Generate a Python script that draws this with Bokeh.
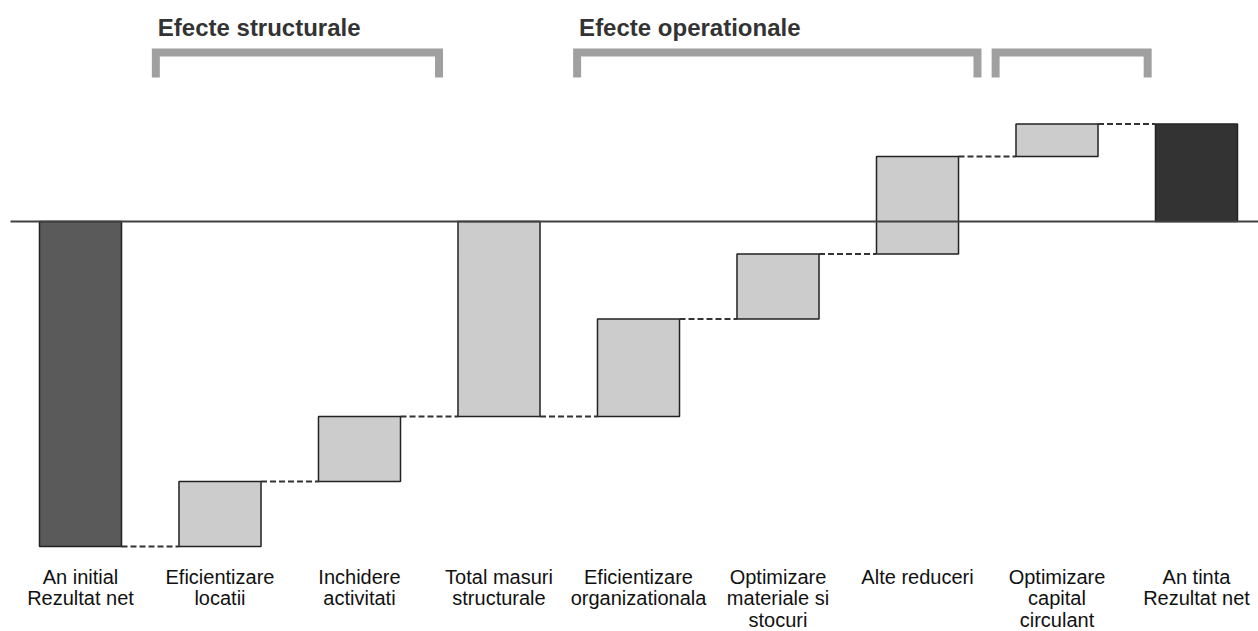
from bokeh.plotting import figure
from bokeh.models import Range1d
from bokeh.embed import file_html
from bokeh.resources import INLINE
from bokeh.core.properties import value

# ---- data ----
categories = ["An initial\nRezultat net", "Eficientizare\nlocatii", "Inchidere\nactivitati",
              "Total masuri\nstructurale", "Eficientizare\norganizationala",
              "Optimizare\nmateriale si\nstocuri", "Alte reduceri",
              "Optimizare\ncapital\ncirculant", "An tinta\nRezultat net"]
values = [-100, 20, 20, -60, 30, 20, 30, 10, 30]
kinds = ["start", "step", "step", "total", "step", "step", "step", "step", "end"]
group_titles = ["Efecte structurale", "Efecte operationale", ""]
group_spans = [(0.54, 2.57), (3.56, 6.43), (6.56, 7.65)]

# ---- layout ----
W, H = 1258, 631
PX_X = 139.5          # px per category
PX_Y = 3.25           # px per value unit
x0 = -80 / PX_X
y1 = 221 / PX_Y
def sy(py):           # screen y -> data y
    return y1 - py / PX_Y

p = figure(width=W, height=H, output_backend="svg", toolbar_location=None,
           x_range=Range1d(x0, x0 + W / PX_X), y_range=Range1d(y1 - H / PX_Y, y1),
           min_border=0, outline_line_color=None)
p.axis.visible = False
p.grid.visible = False

colors = {"start": "#5a5a5a", "step": "#cccccc", "total": "#cccccc", "end": "#333333"}
bw = 0.588
left, right, bottom, top, fill = [], [], [], [], []
levels = []
run = 0
for i, (v, k) in enumerate(zip(values, kinds)):
    if k == "start":
        b, t = min(0, v), max(0, v); run = v
    elif k == "step":
        b, t = min(run, run + v), max(run, run + v); run = run + v
    else:
        b, t = min(0, run), max(0, run)
    left.append(i - bw / 2); right.append(i + bw / 2)
    bottom.append(b); top.append(t); fill.append(colors[k])
    levels.append(run)

p.quad(left=left, right=right, bottom=bottom, top=top, fill_color=fill,
       line_color="#222222", line_width=1.5)

# connectors
cx0 = [i + bw / 2 for i in range(len(values) - 1)]
cx1 = [i + 1 - bw / 2 for i in range(len(values) - 1)]
p.segment(x0=cx0, x1=cx1, y0=levels[:-1], y1=levels[:-1], line_color="#333333",
          line_width=2, line_dash="6 3")

# baseline
p.segment(x0=[x0 + 10 / PX_X], x1=[x0 + W / PX_X], y0=[0], y1=[0],
          line_color="#404040", line_width=2)

# brackets
ys_top, ys_bot = sy(52), sy(77)
p.multi_line(xs=[[a, a, b, b] for a, b in group_spans],
             ys=[[ys_bot, ys_top, ys_top, ys_bot] for _ in group_spans],
             line_color="#a0a0a0", line_width=8, line_join="miter", line_cap="butt")

titles = [(a, t) for (a, b), t in zip(group_spans, group_titles) if t]
p.text(x=[a + 2 / PX_X for a, t in titles], y=[sy(27)] * len(titles), text=[t for a, t in titles],
       text_font=value("Liberation Sans"), text_font_style="bold", text_font_size="24px",
       text_color="#333333", text_align="left", text_baseline="alphabetic")

# category labels
p.text(x=list(range(len(categories))), y=[sy(565)] * len(categories), text=categories,
       text_font=value("Liberation Sans"), text_font_size="20px", text_color="#111111",
       text_align="center", text_baseline="top", text_line_height=0.98)

open("out.html", "w").write(file_html(p, INLINE))
